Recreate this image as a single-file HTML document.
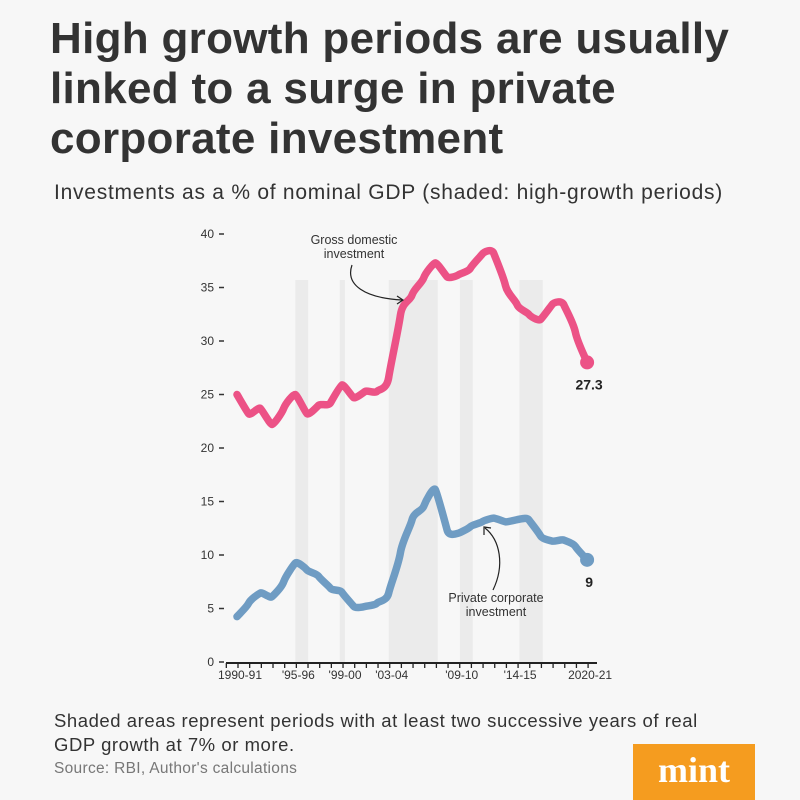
<!DOCTYPE html>
<html><head><meta charset="utf-8"><style>
body{margin:0;width:800px;height:800px;background:#f7f7f7;overflow:hidden;position:relative;font-family:"Liberation Sans",sans-serif;color:#333}
.t{position:absolute;margin:0}
</style></head><body>
<h1 class="t" style="left:50px;top:14px;font-size:44px;line-height:50px;font-weight:bold;color:#333;letter-spacing:0.3px">High growth periods are usually<br>linked to a surge in private<br>corporate investment</h1>
<div class="t" style="left:54px;top:181px;font-size:21px;color:#333;letter-spacing:0.75px">Investments as a % of nominal GDP (shaded: high-growth periods)</div>
<svg class="t" style="left:0;top:0" width="800" height="800" id="c"></svg>
<div class="t" style="left:54px;top:709px;font-size:18.5px;line-height:24px;color:#333;letter-spacing:0.55px">Shaded areas represent periods with at least two successive years of real<br>GDP growth at 7% or more.</div>
<div class="t" style="left:54px;top:760px;font-size:15.5px;color:#777;letter-spacing:0.3px">Source: RBI, Author's calculations</div>
<div class="t" style="left:633px;top:744px;width:122px;height:56px;background:#f59c1f;color:#fff;font-family:'Liberation Serif',serif;font-weight:bold;font-size:36px;text-align:center;line-height:52px">mint</div>
<script>
const years=["1990-91","'95-96","'99-00","'03-04","'09-10","'14-15","2020-21"];
const yearIdx=[0,5,9,13,19,24,30];
const gross=[25.0,23.2,23.7,22.2,23.7,25.0,23.2,24.0,24.2,25.9,24.7,25.3,25.3,26.6,32.4,34.3,35.9,37.3,36.0,36.2,36.8,38.1,38.2,35.2,33.4,32.5,32.0,33.4,33.4,30.8,28.0];
const priv=[4.24,5.5,6.45,6.1,7.5,9.25,8.6,8.0,6.9,6.5,5.2,5.2,5.5,6.45,10.2,13.3,14.55,16.1,12.35,12.05,12.65,13.1,13.45,13.1,13.3,13.3,11.8,11.3,11.4,10.8,9.55];
const bands=[[5,6.1],[8.8,9.25],[13,17.2],[19.1,20.2],[24.2,26.2]];
const yTicks=[0,5,10,15,20,25,30,35,40];
const ns="http://www.w3.org/2000/svg",svg=document.getElementById('c');
const X=i=>237+i*11.67, Y=v=>662-v*10.7;
function mk(t,a){const e=document.createElementNS(ns,t);for(const k in a)e.setAttribute(k,a[k]);svg.appendChild(e);return e;}
bands.forEach(b=>{const r=mk('rect',{x:X(b[0]),y:280,width:X(b[1])-X(b[0]),height:662-280,fill:'#ebebeb'});

});
yTicks.forEach(v=>{const t=mk('text',{x:214,y:Y(v)+4,'text-anchor':'end','font-size':12,fill:'#333','font-family':'Liberation Sans'});t.textContent=v;


mk('line',{x1:219,x2:224,y1:Y(v),y2:Y(v),stroke:'#333','stroke-width':1.5});});
const ax=mk('line',{x1:226,x2:597,y1:663,y2:663,stroke:'#222','stroke-width':2});


for(let i=-1;i<=30;i++)mk('line',{x1:X(i)+1,x2:X(i)+1,y1:663,y2:668,stroke:'#222','stroke-width':1.3});
years.forEach((y,k)=>{const t=mk('text',{x:X(yearIdx[k])+3,y:679,'text-anchor':'middle','font-size':12,fill:'#333','font-family':'Liberation Sans'});t.textContent=y;

});
function path(d){let p=`M${X(0)},${Y(d[0])}`;for(let i=0;i<d.length-1;i++){const p0=d[Math.max(i-1,0)],p1=d[i],p2=d[i+1],p3=d[Math.min(i+2,d.length-1)];
const c1=[X(i)+11.67/6,Y(p1)+(Y(p2)-Y(p0))/6],c2=[X(i+1)-11.67/6,Y(p2)-(Y(p3)-Y(p1))/6];
p+=` C${c1[0]},${c1[1]} ${c2[0]},${c2[1]} ${X(i+1)},${Y(p2)}`;}return p;}
const g=mk('path',{d:path(gross),fill:'none',stroke:'#ec5286','stroke-width':7.5,'stroke-linecap':'round','stroke-linejoin':'round'});


const p=mk('path',{d:path(priv),fill:'none',stroke:'#6f9cc3','stroke-width':7.5,'stroke-linecap':'round','stroke-linejoin':'round'});


mk('circle',{cx:X(30),cy:Y(gross[30]),r:7,fill:'#ec5286'});
mk('circle',{cx:X(30),cy:Y(priv[30]),r:7,fill:'#6f9cc3'});
let t=mk('text',{x:X(30)+2,y:Y(gross[30])+27,'text-anchor':'middle','font-size':14,'font-weight':'bold',fill:'#222','font-family':'Liberation Sans'});t.textContent='27.3';


t=mk('text',{x:X(30)+2,y:Y(priv[30])+27,'text-anchor':'middle','font-size':14,'font-weight':'bold',fill:'#222','font-family':'Liberation Sans'});t.textContent='9';


function lbl(x,y,s,n){const e=mk('text',{x,y,'text-anchor':'middle','font-size':12.5,fill:'#333','font-family':'Liberation Sans'});e.textContent=s;

}
lbl(354,244,'Gross domestic','gross-annotation');lbl(354,258,'investment','gross-annotation');
lbl(496,602,'Private corporate','private-annotation');lbl(496,616,'investment','private-annotation');
mk('path',{d:'M352,265 C345,285 365,298 402,300',fill:'none',stroke:'#222','stroke-width':1.2});
mk('path',{d:'M397,296 L403,300 L397,304',fill:'none',stroke:'#222','stroke-width':1.2});
mk('path',{d:'M493,590 C505,565 500,540 485,528',fill:'none',stroke:'#222','stroke-width':1.2});
mk('path',{d:'M484,535 L484,527 L491,528',fill:'none',stroke:'#222','stroke-width':1.2});
</script>
</body></html>
